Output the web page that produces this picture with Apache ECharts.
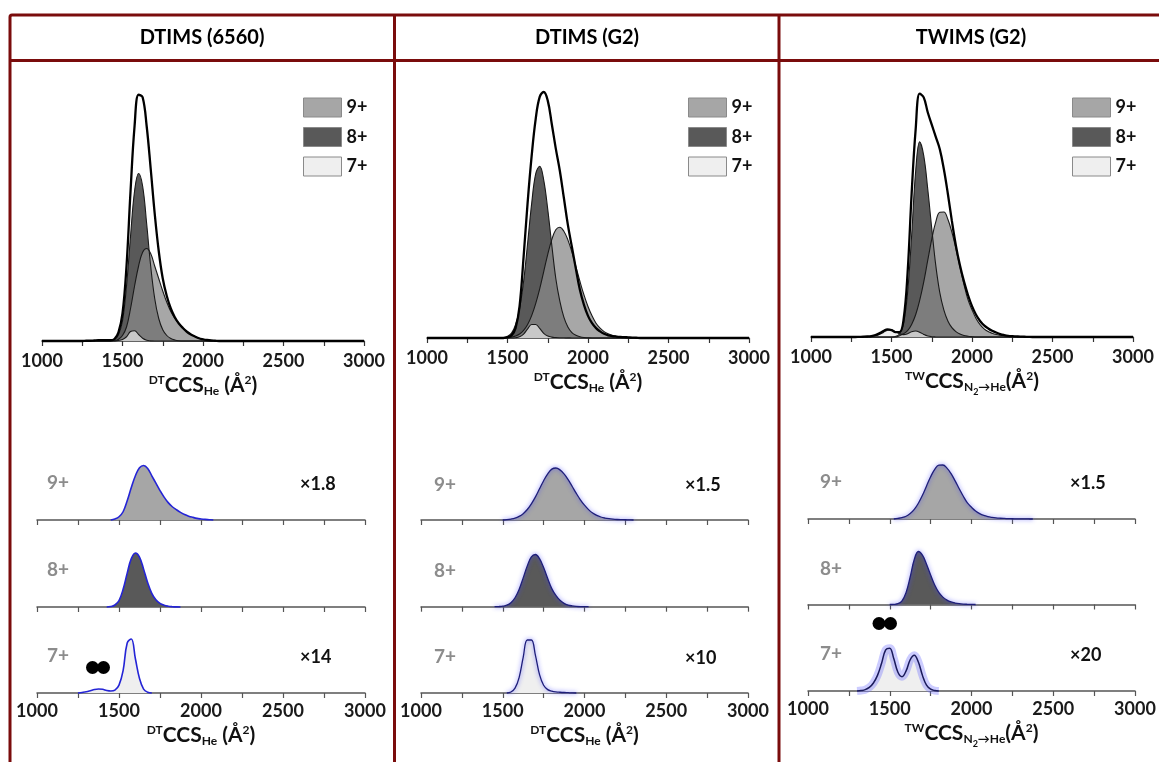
<!DOCTYPE html>
<html><head><meta charset="utf-8">
<script src="https://cdn.jsdelivr.net/npm/echarts@6/dist/echarts.min.js"></script>
<style>html,body{margin:0;padding:0;background:#fff}#c{width:1159px;height:762px}</style>
</head><body><div id="c"></div>
<script>
// ---------------- DATA ----------------
const ccs = [1000,1250,1275,1300,1325,1350,1375,1400,1425,1450,
 1475,1500,1525,1550,1575,1600,1625,1650,1675,1700,
 1725,1750,1775,1800,1825,1850,1875,1900,1925,1950,
 1975,2000,2025,2050,2075,2100,2125,2150,2175,2200,
 2225,2250,2275,2300,2325,2350,2375,2400,3000];

const panelTitles = ['DTIMS (6560)', 'DTIMS (G2)', 'TWIMS (G2)'];
const chargeStates = ['9+', '8+', '7+'];
const scaleLabels = [['×1.8', '', '×14'], ['×1.5', '', '×10'], ['×1.5', '', '×20']];
const tickLabels = [1000, 1500, 2000, 2500, 3000];

// DTIMS (6560)
const dt6560_9 = [0,0,0,0,0,0,0,0,0,0,
 0.7,2.2,5.6,13,22,30,35.5,37,35,30,
 25,20,15.5,11.8,9,7,5.2,3.7,2.6,1.8,
 1.1,0.7,0.4,0.2,0,0,0,0,0,0,
 0,0,0,0,0,0,0,0,0];
const dt6560_8 = [0,0,0,0,0,0,0,0,0,0.5,
 2.5,8,22,42,60,67,62,47,30,17,
 9,4.5,2.2,1,0.4,0.1,0,0,0,0,
 0,0,0,0,0,0,0,0,0,0,
 0,0,0,0,0,0,0,0,0];
const dt6560_7 = [0,0,0.04,0.09,0.17,0.26,0.3,0.28,0.19,0.15,
 0.22,0.6,1.7,3.8,4.1,2.6,1.1,0.3,0.06,0,
 0,0,0,0,0,0,0,0,0,0,
 0,0,0,0,0,0,0,0,0,0,
 0,0,0,0,0,0,0,0,0];
const dt6560_total = [0,0,0.1,0.1,0.2,0.3,0.3,0.3,0.3,0.8,
 3.5,11,30,60,86,98.5,97.5,86,69,51,
 36,25,18,13,9.5,7,5.2,3.7,2.6,1.8,
 1.1,0.7,0.4,0.2,0.1,0,0,0,0,0,
 0,0,0,0,0,0,0,0,0];

// DTIMS (G2)
const dtG2_9 = [0,0,0,0,0,0,0,0,0,0,
 0,0,0.3,0.8,1.6,3.1,5.5,9.1,14,20,
 27,34,40,44,45,43.4,39.9,34.9,29,23,
 17.5,12.8,9,6,4,2.6,1.7,1.1,0.7,0.45,
 0.3,0.2,0.1,0,0,0,0,0,0];
const dtG2_8 = [0,0,0,0,0,0,0,0,0,0,
 0.2,0.7,2,5.4,12,23,38.5,54.6,66.7,69.8,
 64.2,52.3,37.8,24.2,15,8.5,4.5,2.2,1.1,0.5,
 0.2,0.1,0,0,0,0,0,0,0,0,
 0,0,0,0,0,0,0,0,0];
const dtG2_7 = [0,0,0,0,0,0,0,0,0,0,
 0,0,0,0.1,0.5,1.6,3.7,5.5,5.5,3.9,
 1.9,0.8,0.35,0.2,0.12,0.08,0.05,0.03,0.01,0,
 0,0,0,0,0,0,0,0,0,0,
 0,0,0,0,0,0,0,0,0];
const dtG2_total = [0,0,0,0,0,0,0,0,0,0,
 0,0.3,1,4,13,33,55,74,89,98,
 100,96.5,87,77,68,57,46,37,28,19.5,
 13.5,9,6,4,2.7,1.7,1.1,0.8,0.6,0.45,
 0.35,0.25,0.15,0.1,0,0,0,0,0];

// TWIMS (G2)
const twG2_9 = [0,0,0,0,0,0,0,0,0,0,
 0,0,0,0.55,1.3,2.6,5.1,9,14.8,22.2,
 31,39.6,46.6,50.5,50.6,47.7,42.5,35.7,28.4,21.3,
 15.1,11,7.5,5,3.3,2.2,1.5,1,0.7,0.5,
 0.35,0.25,0.17,0.1,0.06,0.03,0,0,0];
const twG2_8 = [0,0,0,0,0,0,0,0,0,0,
 0,0,0.2,1.2,5.5,18,41,67,79,73.5,
 60,44,29,18,11,6.5,3.8,2.2,1.2,0.6,
 0.3,0.12,0,0,0,0,0,0,0,0,
 0,0,0,0,0,0,0,0,0];
const twG2_7 = [0,0,0,0,0.03,0.09,0.24,0.54,1.05,1.86,
 2.76,2.88,2.16,1.26,0.96,1.35,2.1,2.4,1.95,1.05,
 0.39,0.12,0.03,0,0,0,0,0,0,0,
 0,0,0,0,0,0,0,0,0,0,
 0,0,0,0,0,0,0,0,0];
const twG2_total = [0,0,0,0.05,0.1,0.2,0.4,0.8,1.5,2.4,
 3.1,2.8,2,2,7,26,58,84,98.5,97,
 91,86,81,76,68,58,47,37,29,22.5,
 17,12.5,9,6.5,4.7,3.5,2.5,1.8,1.2,0.8,
 0.5,0.35,0.25,0.15,0.1,0.05,0,0,0];

// ---------------- LAYOUT / STYLE ----------------
const FONT = 'Lato, "Open Sans", sans-serif';
const RED = '#7a0c0c';
const fills = { '9+': '#a6a6a6', '8+': '#595959', '7+': '#efefef' };
const topFills = { '9+': 'rgba(137,137,137,0.75)', '8+': '#595959', '7+': 'rgba(232,232,232,0.7)' };

const nameDT = '{sup|DT}{main|CCS}{sub|He}{main| (Å}{sup|2}{main|)}';
const nameTW = '{sup|TW}{main|CCS}{sub|N}{sub2|2}{sub|→He}{main|(Å}{sup|2}{main|)}';
const rich = {
  main: { fontFamily: FONT, fontWeight: 'bold', fontSize: 21, color: '#111', lineHeight: 28, verticalAlign: 'middle' },
  sup: { fontFamily: FONT, fontWeight: 'bold', fontSize: 12, color: '#111', lineHeight: 12, verticalAlign: 'top', padding: [3, 0, 0, 0] },
  sub: { fontFamily: FONT, fontWeight: 'bold', fontSize: 12, color: '#111', lineHeight: 12, verticalAlign: 'bottom', padding: [0, 0, 2, 0] },
  sub2: { fontFamily: FONT, fontWeight: 'bold', fontSize: 9, color: '#111', lineHeight: 9, verticalAlign: 'bottom', padding: [0, 0, -2, 0] }
};

const columns = [
  { comps: [dt6560_9, dt6560_8, dt6560_7], total: dt6560_total, name: nameDT,
    header: 202, topGrid: { left: 42, top: 91, width: 322, height: 250 },
    botLeft: 37, botWidth: 328, rows: [[465.5, 54.5], [553, 54], [639, 54]], headroom: [1, 1, 1],
    legendLeft: 298, labelX: 47, multX: 300, line: 'blue' },
  { comps: [dtG2_9, dtG2_8, dtG2_7], total: dtG2_total, name: nameDT,
    header: 587, topGrid: { left: 427, top: 92, width: 322, height: 246 },
    botLeft: 421, botWidth: 327, rows: [[468, 52], [554.5, 52.2], [640, 53]], headroom: [1, 1, 1],
    legendLeft: 683, labelX: 434, multX: 685, line: 'navy' },
  { comps: [twG2_9, twG2_8, twG2_7], total: twG2_total, name: nameTW,
    header: 971, topGrid: { left: 811, top: 90, width: 322, height: 247 },
    botLeft: 808, botWidth: 327, rows: [[465, 54], [551.5, 53], [637, 54]], headroom: [1, 1, 1.26],
    legendLeft: 1067, labelX: 820, multX: 1070, line: 'navy' }
];

const pairs = arr => ccs.map((x, i) => [x, arr[i]]);
// keep only the part of a trace that rises above the baseline (one zero on each side)
const trimmed = arr => {
  let a = arr.findIndex(v => v > 0), b = arr.length - 1;
  while (b > 0 && !(arr[b] > 0)) b--;
  a = Math.max(0, a - 1); b = Math.min(arr.length - 1, b + 1);
  return pairs(arr).slice(a, b + 1);
};

const grids = [], xAxes = [], yAxes = [], series = [], legends = [], graphics = [];

function addGrid(pos, ymax, showLabels, labelMargin, name, nameGap, axisColor) {
  const i = grids.length;
  grids.push(Object.assign({ containLabel: false, outerBoundsMode: 'none' }, pos));
  xAxes.push({
    gridIndex: i, type: 'value', min: 1000, max: 3000, interval: 250, z: 1,
    axisLine: { show: true, onZero: false, lineStyle: { color: axisColor, width: 1.5 } },
    axisTick: { show: true, length: 5, lineStyle: { color: axisColor, width: 1.2 } },
    axisLabel: { show: showLabels, margin: labelMargin, fontFamily: FONT, fontWeight: 'bold', fontSize: 18, color: '#1a1a1a',
      formatter: v => tickLabels.indexOf(v) >= 0 ? String(v) : '' },
    splitLine: { show: false },
    name: name || '', nameLocation: 'middle', nameGap: nameGap || 0,
    nameTextStyle: { rich: rich }
  });
  yAxes.push({ gridIndex: i, type: 'value', min: 0, max: ymax, show: false, splitLine: { show: false } });
  return i;
}

columns.forEach((col, c) => {
  // ---- top panel ----
  const gi = addGrid(col.topGrid, 100, true, 11, col.name, 28, '#333');
  const order = [1, 0, 2]; // 8+ first (opaque), then 9+, then 7+
  order.forEach(k => {
    const cs = chargeStates[k];
    series.push({
      type: 'line', name: cs, xAxisIndex: gi, yAxisIndex: gi, data: pairs(col.comps[k]),
      smooth: 0.4, symbol: 'none', clip: false, silent: true,
      lineStyle: { color: '#1a1a1a', width: 1.1 },
      itemStyle: { color: fills[cs] },
      areaStyle: { color: topFills[cs], opacity: 1 }, z: 2
    });
  });
  series.push({
    type: 'line', name: 'total', xAxisIndex: gi, yAxisIndex: gi, data: pairs(col.total),
    smooth: 0.4, symbol: 'none', clip: false, silent: true,
    lineStyle: { color: '#000', width: 2.3 }, z: 3
  });
  legends.push({
    show: true, orient: 'vertical', left: col.legendLeft, top: 92.5,
    itemWidth: 38, itemHeight: 19, itemGap: 9.5, selectedMode: false,
    textStyle: { fontFamily: FONT, fontWeight: 'bold', fontSize: 18, color: '#111' },
    data: chargeStates.map(cs => ({ name: cs, icon: 'rect',
      itemStyle: { color: fills[cs], borderColor: '#8a8a8a', borderWidth: 1, opacity: 1 } }))
  });

  // ---- bottom stacked panels ----
  col.rows.forEach((r, k) => {
    const cs = chargeStates[k];
    const arr = col.comps[k];
    const last = k === 2;
    const ymax = Math.max.apply(null, arr) * col.headroom[k];
    const bi = addGrid({ left: col.botLeft, width: col.botWidth, top: r[0], height: r[1] }, ymax,
      last, 9, last ? col.name : '', 28, '#555');
    const lineCol = col.line === 'blue'
      ? { color: '#2424d6', width: 1.6 }
      : { color: '#1e1e7a', width: 1.3, shadowColor: 'rgba(70,70,255,0.85)', shadowBlur: 4 };
    const band = (c === 2 && k === 2);
    const d = trimmed(arr);
    series.push({
      type: 'line', name: panelTitles[c] + ' ' + cs, xAxisIndex: bi, yAxisIndex: bi, data: d,
      smooth: 0.4, symbol: 'none', clip: false, silent: true,
      lineStyle: band ? { width: 0 } : lineCol,
      areaStyle: { color: fills[cs], opacity: 1 }, z: 2
    });
    if (band) {
      series.push({
        type: 'line', name: panelTitles[c] + ' ' + cs + ' band', xAxisIndex: bi, yAxisIndex: bi, data: d,
        smooth: 0.4, symbol: 'none', clip: false, silent: true,
        lineStyle: { color: 'rgba(110,110,255,0.35)', width: 8 }, z: 3
      });
      series.push({
        type: 'line', name: panelTitles[c] + ' ' + cs + ' mean', xAxisIndex: bi, yAxisIndex: bi, data: d,
        smooth: 0.4, symbol: 'none', clip: false, silent: true,
        lineStyle: { color: '#1a1a5a', width: 1.5 }, z: 4
      });
    }
    const cy = r[0] + r[1] * 0.32;
    graphics.push({ type: 'text', x: col.labelX, y: cy, z: 10,
      style: { text: cs, font: 'bold 19px ' + FONT, fill: '#8c8c8c', align: 'left', verticalAlign: 'middle' } });
    if (scaleLabels[c][k]) {
      graphics.push({ type: 'text', x: col.multX, y: cy + 1, z: 10,
        style: { text: scaleLabels[c][k], font: 'bold 18px ' + FONT, fill: '#111', align: 'left', verticalAlign: 'middle' } });
    }
  });

  graphics.push({ type: 'text', x: col.header, y: 38, z: 10,
    style: { text: panelTitles[c], font: 'bold 20px ' + FONT, fill: '#000', align: 'center', verticalAlign: 'middle' } });
});

// table frame
graphics.push({ type: 'rect', z: 20, shape: { x: 10, y: 15, width: 1165, height: 780, r: 2 },
  style: { fill: 'none', stroke: RED, lineWidth: 3 } });
graphics.push({ type: 'line', z: 20, shape: { x1: 10, y1: 60.5, x2: 1175, y2: 60.5 }, style: { stroke: RED, lineWidth: 3 } });
graphics.push({ type: 'line', z: 20, shape: { x1: 394.5, y1: 15, x2: 394.5, y2: 795 }, style: { stroke: RED, lineWidth: 3 } });
graphics.push({ type: 'line', z: 20, shape: { x1: 779, y1: 15, x2: 779, y2: 795 }, style: { stroke: RED, lineWidth: 3 } });

// dimer symbols (annotation glyphs)
[[92.5, 667.5], [103.5, 667.5], [879, 623.5], [890.5, 623.5]].forEach(p => {
  graphics.push({ type: 'circle', z: 10, shape: { cx: p[0], cy: p[1], r: 6.5 }, style: { fill: '#000' } });
});

const chart = echarts.init(document.getElementById('c'), null, { renderer: 'canvas', width: 1159, height: 762 });
chart.setOption({
  backgroundColor: '#ffffff',
  animation: false,
  grid: grids, xAxis: xAxes, yAxis: yAxes, series: series, legend: legends,
  graphic: graphics
});
</script>
</body></html>
